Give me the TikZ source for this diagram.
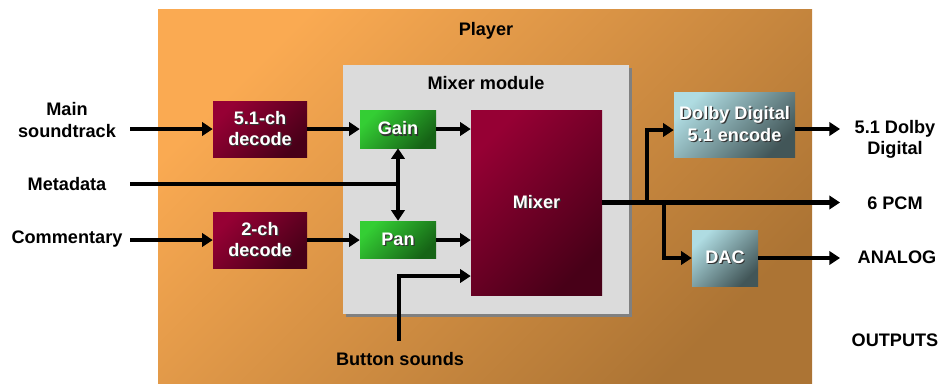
\documentclass[tikz,border=0pt]{standalone}
\usepackage{fontspec}
\setmainfont{Liberation Sans}
\usetikzlibrary{arrows.meta}
\definecolor{orgA}{RGB}{250,170,82}
\definecolor{orgB}{RGB}{172,116,52}
\definecolor{redA}{RGB}{150,0,52}
\definecolor{redB}{RGB}{72,0,24}
\definecolor{grnA}{RGB}{52,206,52}
\definecolor{grnB}{RGB}{22,100,22}
\definecolor{cyA}{RGB}{175,220,226}
\definecolor{cyB}{RGB}{66,86,88}
\newcommand\shtx[1]{\makebox[0pt][l]{\kern0.9pt\raisebox{-0.9pt}{\color{black!80}#1}}#1}
\tikzset{
  lbl/.style={font=\fontsize{13.6}{16}\selectfont\bfseries, align=center, inner sep=0pt},
  blk/.style={font=\fontsize{13.6}{16}\selectfont\bfseries, align=center, text=white, inner sep=0pt, shading=axis, shading angle=45},
  redbox/.style={blk, top color=redA, bottom color=redB, shading angle=45},
  grnbox/.style={blk, top color=grnA, bottom color=grnB, shading angle=45},
  cybox/.style={blk, top color=cyA, bottom color=cyB, shading angle=45},
  wire/.style={line width=3.4pt},
  arr/.style={line width=3.4pt, -{Triangle[length=8pt,width=10pt]}},
  darr/.style={line width=3.4pt, {Triangle[length=8pt,width=10pt]}-{Triangle[length=8pt,width=10pt]}},
}
\begin{document}
\begin{tikzpicture}[x=0.75pt,y=-0.75pt]
\useasboundingbox (0,0) rectangle (943,383);
% player
\shade[top color=orgA, bottom color=orgB, shading angle=45] (158,9) rectangle (812,383);
\node[lbl, anchor=base] (player) at (486,35) {Player};
% mixer module
\fill[black!50] (346,68) rectangle (632,317);
\fill[black!14] (343,65) rectangle (629,314);
\node[lbl, anchor=base] (mm) at (486,89) {Mixer module};
% blocks
\node[redbox, minimum width=94*0.75pt, minimum height=56*0.75pt] (d51) at (260,129) {\shtx{5.1-ch}\\\shtx{decode}};
\node[redbox, minimum width=94*0.75pt, minimum height=56*0.75pt] (d2) at (260,240) {\shtx{2-ch}\\\shtx{decode}};
\node[grnbox, minimum width=76*0.75pt, minimum height=38*0.75pt] (gain) at (398,129) {\shtx{Gain}};
\node[grnbox, minimum width=76*0.75pt, minimum height=37*0.75pt] (pan) at (398,239.5) {\shtx{Pan}};
\node[redbox, minimum width=131*0.75pt, minimum height=185*0.75pt] (mixer) at (536.5,202.5) {\shtx{Mixer}};
\node[cybox, minimum width=121*0.75pt, minimum height=65*0.75pt] (dolby) at (734.5,124.5) {\shtx{Dolby Digital}\\\shtx{5.1 encode}};
\node[cybox, minimum width=66*0.75pt, minimum height=56*0.75pt] (dac) at (725,258) {\shtx{DAC}};
% inputs
\node[lbl] (main) at (67,120) {Main\\soundtrack};
\node[lbl] (meta) at (67,184) {Metadata};
\node[lbl] (comm) at (67,239) {Commentary};
\node[lbl, anchor=base] (btn) at (400,365) {Button sounds};
\coordinate (mainS) at (130,129);
\coordinate (metaS) at (130,184);
\coordinate (commS) at (130,240);
\coordinate (btnS) at (399,341);
\coordinate (mj) at (398,184);
\draw[arr] (mainS) -- (d51.west |- mainS);
\draw[arr] (commS) -- (d2.west |- commS);
\draw[arr] (d51.east |- mainS) -- (gain.west |- mainS);
\draw[arr] (d2.east |- commS) -- (pan.west |- commS);
\draw[arr] (gain.east |- mainS) -- (mixer.west |- mainS);
\draw[arr] (pan.east |- commS) -- (mixer.west |- commS);
\draw[wire] (metaS) -- ([xshift=1.7pt]mj);
\draw[darr] (gain.south) -- (pan.north);
\draw[arr] (btnS) |- (mixer.west |- 0,276);
% outputs
\node[lbl] (o1) at (895,139.5) {5.1 Dolby\\Digital};
\node[lbl] (o2) at (895,203) {6 PCM};
\node[lbl] (o3) at (897,257) {ANALOG};
\node[lbl, anchor=base] (outs) at (895,346) {OUTPUTS};
\coordinate (b1) at (647,202.5);
\coordinate (b2) at (664,202.5);
\coordinate (e1) at (840,129);
\coordinate (e2) at (840,202.5);
\coordinate (e3) at (840,258);
\draw[arr] (mixer.east) -- (e2);
\draw[arr] (b1) |- (dolby.west |- 0,130);
\draw[arr] (b2) |- (dac.west);
\draw[arr] (dolby.east |- e1) -- (e1);
\draw[arr] (dac.east) -- (e3);
\end{tikzpicture}
\end{document}
